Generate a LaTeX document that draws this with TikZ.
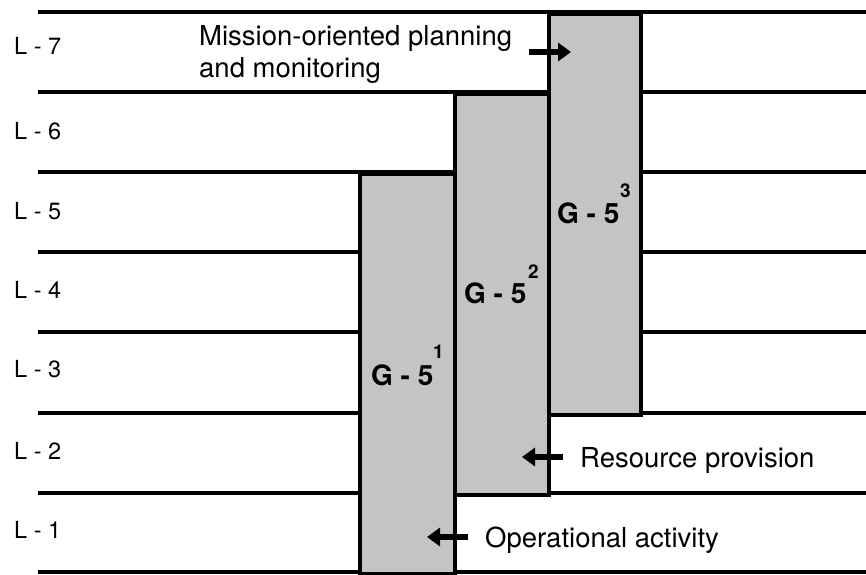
\documentclass[tikz,border=0pt]{standalone}
\usepackage{fontspec}
\setmainfont{TeX Gyre Heros}
\usetikzlibrary{arrows.meta}
\begin{document}
\begin{tikzpicture}[x=1pt,y=-1pt,
  level/.style={line width=3.6pt},
  gbox/.style={draw=black,line width=3.8pt,fill=black!23,inner sep=0pt,anchor=north west},
  lvl/.style={anchor=west,inner sep=0pt,font=\fontsize{23.5}{26}\selectfont},
  note/.style={anchor=base west,inner sep=0pt,font=\fontsize{27.5}{32}\selectfont},
  gname/.style={anchor=base west,inner sep=0pt,font=\fontsize{28}{30}\selectfont\bfseries},
  gsup/.style={anchor=base west,inner sep=0pt,font=\fontsize{19}{20}\selectfont\bfseries},
  fat/.style={line width=6pt,-{Triangle[width=18pt,length=13pt]}}]
\useasboundingbox (0,0) rectangle (866,574);
% level lines
\coordinate (a1) at (38,12);  \coordinate (b1) at (866,12);
\coordinate (a2) at (38,92);  \coordinate (b2) at (866,92);
\coordinate (a3) at (38,172); \coordinate (b3) at (866,172);
\coordinate (a4) at (38,252); \coordinate (b4) at (866,252);
\coordinate (a5) at (38,332); \coordinate (b5) at (866,332);
\coordinate (a6) at (38,413); \coordinate (b6) at (866,413);
\coordinate (a7) at (38,493); \coordinate (b7) at (866,493);
\coordinate (a8) at (38,572); \coordinate (b8) at (866,572);
\foreach \i in {1,...,8} \draw[level] (a\i) -- (b\i);
% boxes
\node[gbox,minimum width=95pt,minimum height=400pt] (g1) at (358,172) {};
\node[gbox,minimum width=94pt,minimum height=401pt] (g2) at (453,92) {};
\node[gbox,minimum width=92pt,minimum height=401pt] (g3) at (547,12) {};
% level labels
\node[lvl] (l7) at (14,46) {L - 7};
\node[lvl] (l6) at (14,131) {L - 6};
\node[lvl] (l5) at (14,211) {L - 5};
\node[lvl] (l4) at (14,290) {L - 4};
\node[lvl] (l3) at (14,369) {L - 3};
\node[lvl] (l2) at (14,451) {L - 2};
\node[lvl] (l1) at (14,530) {L - 1};
% G labels
\node[gname] (n1) at (371,385) {G - 5};
\node[gsup] (s1) at (433,358) {1};
\node[gname] (n2) at (464,303) {G - 5};
\node[gsup] (s2) at (528,278) {2};
\node[gname] (n3) at (557,223) {G - 5};
\node[gsup] (s3) at (620,197) {3};
% notes
\node[note] (m1) at (199,45) {Mission-oriented planning};
\node[note] (m2) at (199,77) {and monitoring};
\node[note] (r) at (580,467) {Resource provision};
\node[note] (o) at (485,547) {Operational activity};
% arrows
\coordinate (t1) at (529,52); \coordinate (h1) at (571,52);
\coordinate (t2) at (563,457); \coordinate (h2) at (522,457);
\coordinate (t3) at (468,537); \coordinate (h3) at (427,537);
\draw[fat] (t1) -- (h1);
\draw[fat] (t2) -- (h2);
\draw[fat] (t3) -- (h3);
\end{tikzpicture}
\end{document}
